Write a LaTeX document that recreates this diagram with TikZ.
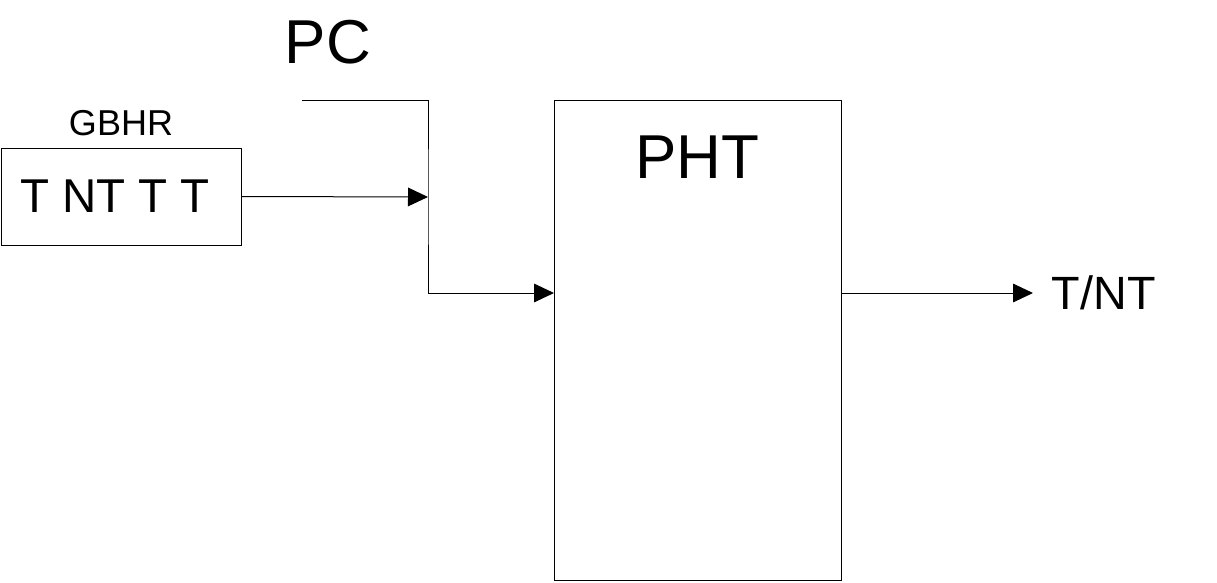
\documentclass[tikz,border=0pt]{standalone}
\usepackage{fontspec}
\setmainfont{Liberation Sans}
\usepackage{tikz}
\usetikzlibrary{arrows.meta, positioning}
\tikzstyle{register} = [rectangle, minimum width=180pt, minimum height=72.75pt, inner sep=0pt, text centered, draw=black, line width=0.75pt, font=\fontsize{35.6pt}{40pt}\selectfont]
\tikzstyle{table} = [rectangle, minimum width=215.25pt, minimum height=360pt, inner sep=0pt, draw=black, line width=0.75pt]
\tikzstyle{bigtext} = [inner sep=0pt, font=\fontsize{46.5pt}{50pt}\selectfont]
\tikzstyle{midtext} = [inner sep=0pt, font=\fontsize{35pt}{40pt}\selectfont]
\tikzstyle{smalltext} = [inner sep=0pt, font=\fontsize{27pt}{30pt}\selectfont]
\tikzstyle{arrow} = [line width=0.75pt, -{Triangle[length=15pt, width=14pt]}]

\begin{document}
\begin{tikzpicture}[x=0.75pt, y=-0.75pt]
\useasboundingbox (0,0) rectangle (1217,582);
\node (gbhr) [register] at (121,196.5) {T NT T T\hspace*{9pt}};
\node (gbhrlabel) [smalltext] at (121,123.5) {GBHR};
\node (pc) [bigtext] at (328,42) {PC};
\node (pht) [table] at (697.5,340) {};
\node (phtlabel) [bigtext] at (697.5,157) {PHT};
\node (tnt) [midtext, anchor=west, inner xsep=14pt] at (1033,292.5) {T/NT};
\coordinate (pcin) at (302,100);
\coordinate (merge) at (428,197);
\coordinate (phtin) at (554,293);

\draw [arrow] (gbhr.east) -- (merge);
\draw [arrow] (pcin) -| (merge) |- (phtin);
\draw [arrow] (pht.east |- phtin) -- (tnt.west |- phtin);
\end{tikzpicture}
\end{document}
